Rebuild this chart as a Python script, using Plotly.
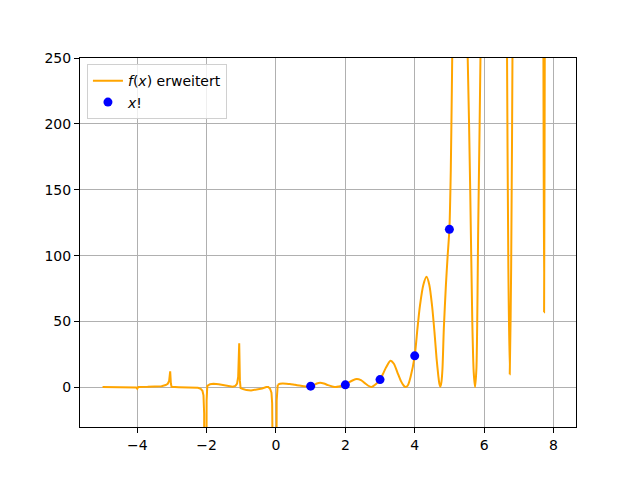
import plotly.graph_objects as go

# f(x) erweitert, Werte (ausserhalb des Bereichs nur grob geschaetzt)
curve_x = [
    -5.00, -4.50, -4.10, -4.03, -4.00, -3.97, -3.70, -3.45, -3.30, -3.18,
    -3.12, -3.08, -3.05, -3.03, -3.01, -2.80, -2.50, -2.35, -2.25, -2.17,
    -2.12, -2.09, -2.07, -2.06, -2.01, -2.00, -1.98, -1.90, -1.80, -1.65,
    -1.50, -1.35, -1.25, -1.17, -1.12, -1.09, -1.06, -1.04, -1.02, -0.95,
    -0.85, -0.72, -0.55, -0.40, -0.28, -0.22, -0.17, -0.13, -0.11, -0.09,
    -0.01, 0.02, 0.05, 0.12, 0.19, 0.30, 0.40, 0.55, 0.67, 0.80,
    0.91, 1.00, 1.10, 1.18, 1.27, 1.38, 1.50, 1.62, 1.73, 1.82,
    1.92, 2.00, 2.10, 2.22, 2.33, 2.45, 2.55, 2.65, 2.75, 2.83,
    2.92, 3.00, 3.08, 3.18, 3.30, 3.40, 3.50, 3.60, 3.68, 3.74,
    3.80, 3.88, 4.00, 4.08, 4.15, 4.25, 4.34, 4.42, 4.50, 4.57,
    4.63, 4.68, 4.71, 4.74, 4.77, 4.80, 4.84, 4.90, 4.95, 5.00,
    5.04, 5.07, 5.10, 5.20, 5.30, 5.42, 5.52, 5.60, 5.66, 5.70,
    5.74, 5.78, 5.83, 5.90, 6.00, 6.30, 6.62, 6.66, 6.70, 6.74,
    6.78, 6.82, 6.86, 7.30, 7.68, 7.71, 7.73, 7.75, 7.78, 8.00,
]
curve_y = [
    0.4, 0.4, 0.4, 0.0, -1.0, 0.4, 0.5, 0.8, 1.0, 1.8,
    2.8, 5.0, 12.3, 3.0, 0.5, 0.2, -0.2, 0.0, -0.3, -1.0,
    -2.5, -6.0, -20.0, -300.0, -300.0, -10.0, 1.2, 2.5, 2.9, 2.5,
    1.6, 0.8, 0.6, 1.2, 3.0, 8.0, 33.5, 5.0, -0.5, -1.2,
    -2.0, -2.3, -1.8, -0.8, 0.3, 0.3, -1.0, -4.0, -12.0, -300.0,
    -300.0, -10.0, 2.0, 2.8, 3.0, 2.9, 2.7, 2.0, 1.5, 1.0,
    0.8, 1.0, 2.0, 3.0, 3.5, 3.0, 1.8, 0.8, 0.3, 0.8,
    1.5, 2.2, 3.8, 5.5, 6.4, 5.5, 3.5, 1.5, 0.3, 1.5,
    3.5, 6.0, 10.0, 15.5, 20.3, 18.0, 11.5, 5.0, 1.5, 0.3,
    1.5, 8.0, 24.0, 45.0, 62.0, 78.0, 84.0, 78.0, 62.0, 42.0,
    22.0, 9.0, 3.0, 0.5, 4.0, 14.0, 45.0, 78.0, 100.0, 120.0,
    165.0, 225.0, 280.0, 340.0, 370.0, 330.0, 260.0, 150.0, 50.0, 12.0,
    0.3, 15.0, 120.0, 260.0, 600.0, 1800.0, 600.0, 260.0, 90.0, 10.0,
    90.0, 260.0, 600.0, 6000.0, 600.0, 260.0, 57.0, 260.0, 600.0, 20000.0,
]

# x! an den ganzen Zahlen
fak_x = [1, 2, 3, 4, 5]
fak_y = [1, 2, 6, 24, 120]

x_ticks = [-4, -2, 0, 2, 4, 6, 8]
x_ticktext = ["\u22124", "\u22122", "0", "2", "4", "6", "8"]
y_ticks = [0, 50, 100, 150, 200, 250]

# negative Seite mit Spitzen gerade verbinden, positive Seite glatt
split = curve_x.index(0.05)

fig = go.Figure()

fig.add_trace(go.Scatter(
    x=curve_x[:split + 1],
    y=curve_y[:split + 1],
    mode="lines",
    name="<i>f</i>(<i>x</i>) erweitert",
    legendgroup="f",
    line=dict(color="orange", width=2),
))
fig.add_trace(go.Scatter(
    x=curve_x[split:],
    y=curve_y[split:],
    mode="lines",
    legendgroup="f",
    showlegend=False,
    line=dict(color="orange", width=2, shape="spline", smoothing=0.7),
))

fig.add_trace(go.Scatter(
    x=fak_x,
    y=fak_y,
    mode="markers",
    name="<i>x</i>!",
    marker=dict(color="blue", size=9),
))

fig.update_layout(
    width=640,
    height=480,
    margin=dict(l=80, r=64, t=58, b=53),
    plot_bgcolor="white",
    paper_bgcolor="white",
    font=dict(family="DejaVu Sans", size=14, color="black"),
    legend=dict(
        x=0.014, y=0.983, xanchor="left", yanchor="top",
        bordercolor="#d0d0d0", borderwidth=1,
        bgcolor="rgba(255,255,255,0.8)",
        font=dict(size=14),
        tracegroupgap=0,
    ),
)

# Achsen im matplotlib-Stil: Rahmen rundum, Gitter grau
fig.update_xaxes(
    range=[-5.65, 8.65], tickvals=x_ticks, ticktext=x_ticktext,
    showgrid=True, gridcolor="#b0b0b0", gridwidth=1, zeroline=False,
    showline=True, linecolor="black", linewidth=1, mirror=True,
    ticks="outside", ticklen=5, tickcolor="black",
)
fig.update_yaxes(
    range=[-30, 250], tickvals=y_ticks,
    showgrid=True, gridcolor="#b0b0b0", gridwidth=1, zeroline=False,
    showline=True, linecolor="black", linewidth=1, mirror=True,
    ticks="outside", ticklen=5, tickcolor="black",
)

fig.write_html(
    "out.html",
    config={"displayModeBar": False},
    post_script="document.body.style.margin='0';",
)
